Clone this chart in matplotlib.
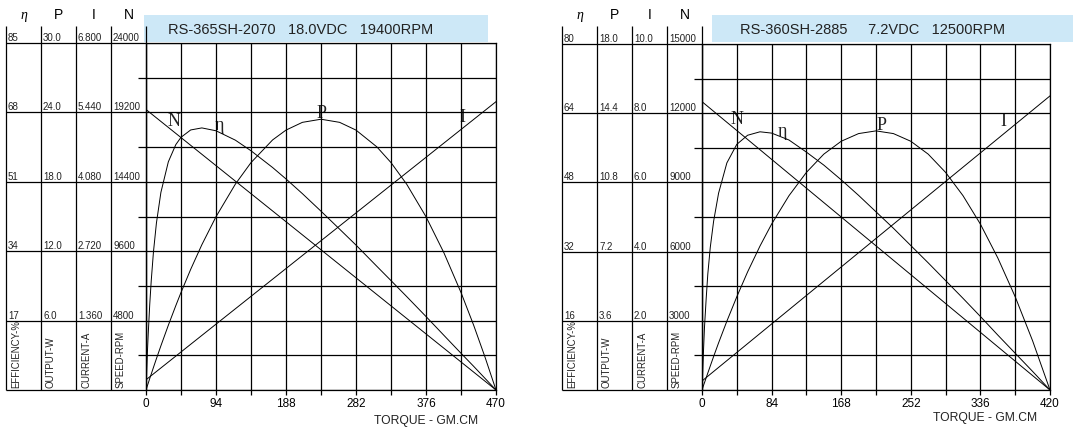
import matplotlib
matplotlib.use('Agg')
import matplotlib.pyplot as plt
from matplotlib.patches import Rectangle

plt.rcParams['font.family'] = ['Liberation Sans', 'DejaVu Sans']

W, H = 1075, 435

# ---------------- Chart A : RS-365SH-2070 ----------------
title_A = "RS-365SH-2070   18.0VDC   19400RPM"
torque_A = [0, 1, 2, 3, 5, 7, 10, 14, 20, 30, 40, 47, 60, 75, 94, 120, 141, 170, 188,
            210, 235, 260, 282, 310, 329, 350, 376, 400, 423, 440, 455, 470]
eta_A = [0, 5.1, 9.8, 13.8, 20.9, 26.7, 33.8, 40.9, 48.4, 55.9, 60.1, 61.9, 63.7,
         64.2, 63.5, 61.2, 58.6, 54.5, 51.7, 48.1, 43.8, 39.4, 35.5, 30.3, 26.8,
         22.9, 18.0, 13.4, 9.0, 5.8, 2.9, 0]
power_A = [0, 0.20, 0.40, 0.59, 0.99, 1.37, 1.95, 2.71, 3.82, 5.60, 7.29, 8.43,
           10.43, 12.56, 14.98, 17.80, 19.66, 21.62, 22.47, 23.14, 23.41, 23.14,
           22.47, 21.02, 19.66, 17.80, 14.98, 11.87, 8.43, 5.60, 2.89, 0]
speed_torque_A = [0, 470]
speed_A = [19400, 0]
current_torque_A = [0, 470]
current_A = [0.2, 5.65]
xticks_A = [0, 94, 188, 282, 376, 470]
row_eta_A = ['17', '34', '51', '68', '85']
row_p_A = ['6.0', '12.0', '18.0', '24.0', '30.0']
row_i_A = ['1.360', '2.720', '4.080', '5.440', '6.800']
row_n_A = [4800, 9600, 14400, 19200, 24000]
eta_max_A, p_max_A, i_max_A = 85, 30.0, 6.8

# ---------------- Chart B : RS-360SH-2885 ----------------
title_B = "RS-360SH-2885     7.2VDC   12500RPM"
torque_B = [0, 1, 2, 3, 5, 7, 10, 14, 20, 30, 42, 55, 70, 84, 105, 126, 147, 168,
            189, 210, 231, 252, 273, 294, 315, 336, 357, 378, 399, 420]
eta_B = [0, 5.2, 10.0, 14.5, 21.0, 26.8, 33.0, 39.0, 45.5, 52.5, 56.8, 58.9, 59.7,
         59.4, 57.8, 55.0, 52.0, 48.6, 45.0, 41.2, 37.4, 33.4, 29.4, 25.3, 21.2,
         17.0, 12.7, 8.5, 4.3, 0]
power_B = [0, 0.13, 0.26, 0.38, 0.63, 0.88, 1.25, 1.74, 2.45, 3.58, 4.85, 6.14,
           7.49, 8.63, 10.11, 11.32, 12.27, 12.94, 13.34, 13.48, 13.34, 12.94,
           12.27, 11.32, 10.11, 8.63, 6.87, 4.85, 2.56, 0]
speed_torque_B = [0, 420]
speed_B = [12500, 0]
current_torque_B = [0, 420]
current_B = [0.26, 8.5]
xticks_B = [0, 84, 168, 252, 336, 420]
row_eta_B = ['16', '32', '48', '64', '80']
row_p_B = ['3.6', '7.2', '10.8', '14.4', '18.0']
row_i_B = ['2.0', '4.0', '6.0', '8.0', '10.0']
row_n_B = [3000, 6000, 9000, 12000, 15000]
eta_max_B, p_max_B, i_max_B = 80, 18.0, 10.0

header_symbols = ['η', 'P', 'I', 'N']
unit_labels = ['EFFICIENCY-%', 'OUTPUT-W', 'CURRENT-A', 'SPEED-RPM']
curve_letters = ['N', 'η', 'P', 'I']
xlabel_text = 'TORQUE - GM.CM'

fig = plt.figure(figsize=(W / 100, H / 100), dpi=100)
bg = fig.add_axes([0, 0, 1, 1], zorder=0)
bg.set_xlim(0, W)
bg.set_ylim(0, H)
bg.set_axis_off()

LW = 0.9


def draw_chart(left, right, top, bottom, table_left, title, box, title_x,
               xlabel_xy, torque, eta, power, sp_t, sp, cu_t, cu, xticks,
               eta_max, p_max, i_max, row_eta, row_p, row_i, row_n, letters_xy):
    ax = fig.add_axes([left / W, (H - bottom) / H, (right - left) / W,
                       (bottom - top) / H], zorder=1)
    ax.set_facecolor('none')
    ax.set_xlim(0, xticks[-1])
    ax.set_ylim(0, row_n[-1])
    minor_x = [(a + b) / 2 for a, b in zip(xticks[:-1], xticks[1:])]
    ax.set_xticks(xticks)
    ax.set_xticklabels([str(v) for v in xticks])
    ax.set_xticks(minor_x, minor=True)
    major_y = [0] + row_n
    minor_y = [(a + b) / 2 for a, b in zip(major_y[:-1], major_y[1:])]
    ax.set_yticks(major_y)
    ax.set_yticklabels([])
    ax.set_yticks(minor_y, minor=True)
    ax.grid(True, which='both', color='black', lw=LW)
    ax.set_axisbelow(True)
    ax.tick_params(axis='x', which='both', direction='out', length=3.6,
                   width=LW, labelsize=8.5, pad=1.8, colors='black')
    ax.tick_params(axis='y', which='major', length=0, labelleft=False)
    ax.tick_params(axis='y', which='minor', direction='out', length=5.8, width=LW)
    for s in ax.spines.values():
        s.set_linewidth(LW)
        s.set_color('black')

    ax.plot(sp_t, sp, color='black', lw=0.7)
    ax_eta = ax.twinx()
    ax_eta.set_ylim(0, eta_max)
    ax_eta.plot(torque, eta, color='black', lw=0.7)
    ax_eta.set_axis_off()
    ax_p = ax.twinx()
    ax_p.set_ylim(0, p_max)
    ax_p.plot(torque, power, color='black', lw=0.7)
    ax_p.set_axis_off()
    ax_i = ax.twinx()
    ax_i.set_ylim(0, i_max)
    ax_i.plot(cu_t, cu, color='black', lw=0.7)
    ax_i.set_axis_off()

    # table to the left
    y_of = lambda v: ax.transData.transform((0, v))[1]
    y_bot = y_of(0)
    y_tab_top = H - 27
    for v in major_y:
        yy = y_of(v)
        bg.plot([table_left, left], [yy, yy], color='black', lw=LW,
                solid_capstyle='butt')
    cols = [table_left + 35 * k for k in range(5)]
    for c in cols:
        bg.plot([c, c], [y_bot, y_tab_top], color='black', lw=LW,
                solid_capstyle='butt')
    for k, sym in enumerate(header_symbols):
        if sym == 'η':
            bg.text(cols[k] + 17.5, H - 15, sym, ha='center', va='center',
                    fontsize=10, family=['Liberation Serif', 'DejaVu Serif'],
                    style='italic')
        else:
            bg.text(cols[k] + 17.5, H - 15, sym, ha='center', va='center',
                    fontsize=10)
    for r in range(5):
        yy = y_of(row_n[r])
        for k, lab in enumerate([row_eta[r], row_p[r], row_i[r], str(row_n[r])]):
            bg.text(cols[k] + 2, yy + 3, lab, ha='left', va='baseline',
                    fontsize=7, color='#222222')
    for k, lab in enumerate(unit_labels):
        bg.text(cols[k] + 10, y_bot + 3, lab, ha='left', va='center',
                rotation=90, rotation_mode='anchor', fontsize=6.9,
                color='#222222')

    # title box
    bx0, bx1, by0, by1 = box
    bg.add_patch(Rectangle((bx0, H - by1), bx1 - bx0, by1 - by0,
                           facecolor='#cde8f7', edgecolor='none', zorder=0))
    bg.text(title_x, H - 30, title, ha='left', va='center', fontsize=10.5,
            color='#222222')
    bg.text(xlabel_xy[0], H - xlabel_xy[1], xlabel_text, ha='center',
            va='center', fontsize=8.7, color='#222222')
    for lab, (lx, ly) in zip(curve_letters, letters_xy):
        bg.text(lx, H - ly, lab, ha='center', va='center', fontsize=13,
                family=['Liberation Serif', 'DejaVu Serif'], color='#222222')


draw_chart(146, 496, 44, 391, 6, title_A, (144, 488, 16, 43), 168, (426, 421),
           torque_A, eta_A, power_A, speed_torque_A, speed_A,
           current_torque_A, current_A, xticks_A, eta_max_A, p_max_A, i_max_A,
           row_eta_A, row_p_A, row_i_A, row_n_A,
           [(174, 122), (219, 125), (322, 113), (462, 117)])

draw_chart(702, 1050, 45, 391, 562, title_B, (712, 1073, 16, 43), 740, (985, 418),
           torque_B, eta_B, power_B, speed_torque_B, speed_B,
           current_torque_B, current_B, xticks_B, eta_max_B, p_max_B, i_max_B,
           row_eta_B, row_p_B, row_i_B, row_n_B,
           [(737, 119), (782, 131), (882, 125), (1003, 122)])

fig.savefig('out.png', dpi=100)
